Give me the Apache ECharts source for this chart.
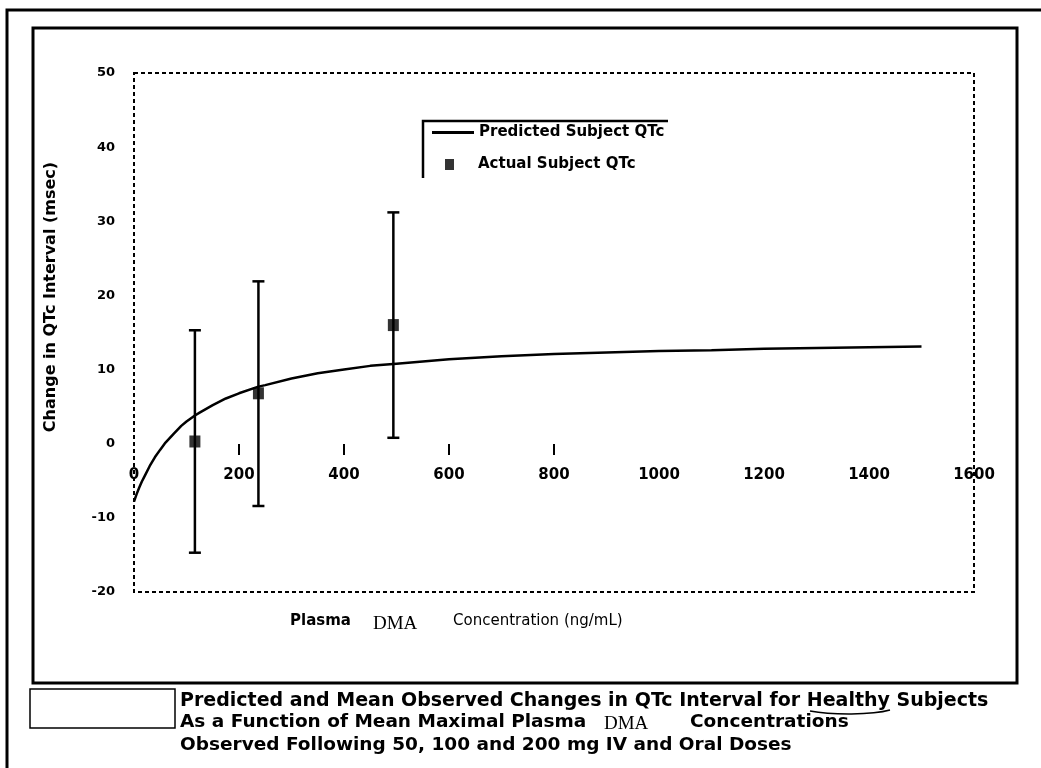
<!DOCTYPE html>
<html><head><meta charset="utf-8">
<script src="https://cdn.jsdelivr.net/npm/echarts@6/dist/echarts.min.js"></script>
<style>html,body{margin:0;padding:0;background:#fff}#c{width:1041px;height:768px}</style>
</head><body><div id="c"></div>
<script>
// ---- data ----
const xTickValues = [200, 400, 600, 800];           // small marks drawn on the zero line
const curveConc = [0, 5, 10, 15, 20, 30, 40, 50, 60, 75, 90, 100, 116, 125, 150, 175, 200, 237, 250, 300, 350, 400, 450, 500, 600, 700, 800, 900, 1000, 1100, 1200, 1300, 1400, 1500];
const curveQTc  = [-7.8, -6.8, -5.9, -5.1, -4.4, -3.0, -1.8, -0.8, 0.15, 1.3, 2.4, 3.0, 3.8, 4.2, 5.2, 6.1, 6.8, 7.7, 7.9, 8.8, 9.5, 10.0, 10.5, 10.8, 11.4, 11.8, 12.1, 12.3, 12.5, 12.6, 12.8, 12.9, 13.0, 13.1];
const obsConc = [116, 237, 494];
const obsMean = [0.3, 6.8, 16.0];
const obsLow  = [-14.7, -8.4, 0.8];
const obsHigh = [15.3, 21.9, 31.2];
const seriesNames = ['Predicted Subject QTc', 'Actual Subject QTc'];
const yTitle = 'Change in QTc Interval (msec)';
const captionLines = [
  'Predicted and Mean Observed Changes in QTc Interval for Healthy Subjects',
  'As a Function of Mean Maximal Plasma',
  'Observed Following 50, 100 and 200 mg IV and Oral Doses'
];

const chart = echarts.init(document.getElementById('c'), null, {renderer: 'canvas'});
const SANS = 'DejaVu Sans';
const cap = {fontFamily: SANS, fontWeight: 'bold', fontSize: 18.5, fill: '#000'};

const option = {
  backgroundColor: '#fff',
  animation: false,
  grid: {left: 134, top: 73, width: 840, height: 519, show: true,
         borderColor: '#000', borderWidth: 2, borderType: [4, 3], backgroundColor: 'transparent'},
  xAxis: {
    type: 'value', min: 0, max: 1600, interval: 200, position: 'bottom', offset: -148,
    axisLine: {show: false, onZero: false},
    axisTick: {show: true, customValues: xTickValues, length: 11, lineStyle: {color: '#000', width: 2}},
    axisLabel: {margin: 24, color: '#000', fontFamily: SANS, fontWeight: 'bold', fontSize: 15,
                formatter: function (v) { return String(v); }},
    splitLine: {show: false}
  },
  yAxis: {
    type: 'value', min: -20, max: 50, interval: 10,
    axisLine: {show: false}, axisTick: {show: false}, splitLine: {show: false},
    axisLabel: {margin: 19, color: '#000', fontFamily: SANS, fontWeight: 'bold', fontSize: 13}
  },
  legend: [
    {data: [seriesNames[0]], left: 432, top: 125, icon: 'rect', itemWidth: 42, itemHeight: 3, padding: 0,
     textStyle: {fontFamily: SANS, fontWeight: 'bold', fontSize: 15, color: '#000'}},
    {data: [seriesNames[1]], left: 445, top: 157, icon: 'rect', itemWidth: 9, itemHeight: 11, padding: 0,
     textStyle: {fontFamily: SANS, fontWeight: 'bold', fontSize: 15, color: '#000', padding: [0, 0, 0, 19]}}
  ],
  series: [
    {name: seriesNames[0], type: 'line', data: curveConc.map((c, i) => [c, curveQTc[i]]),
     symbol: 'none', smooth: false,
     lineStyle: {color: '#000', width: 2.5}, itemStyle: {color: '#000'}, z: 3},
    {name: 'err', type: 'custom', data: obsConc.map((c, i) => [c, obsLow[i], obsHigh[i]]),
     encode: {x: 0, y: [1, 2]}, silent: true, z: 2,
     renderItem: function (params, api) {
       const x = api.value(0);
       const lo = api.coord([x, api.value(1)]);
       const hi = api.coord([x, api.value(2)]);
       const hw = 6, st = {stroke: '#000', lineWidth: 2.5};
       return {type: 'group', children: [
         {type: 'line', shape: {x1: lo[0], y1: lo[1], x2: hi[0], y2: hi[1]}, style: st},
         {type: 'line', shape: {x1: lo[0] - hw, y1: lo[1], x2: lo[0] + hw, y2: lo[1]}, style: st},
         {type: 'line', shape: {x1: hi[0] - hw, y1: hi[1], x2: hi[0] + hw, y2: hi[1]}, style: st}
       ]};
     }},
    {name: seriesNames[1], type: 'scatter', data: obsConc.map((c, i) => [c, obsMean[i]]),
     symbol: 'rect', symbolSize: [11, 12], itemStyle: {color: '#000'}, z: 4}
  ],
  graphic: [
    {type: 'polyline', shape: {points: [[7, 768], [7, 10], [1041, 10]]}, style: {stroke: '#000', lineWidth: 3, fill: null}},
    {type: 'rect', shape: {x: 33, y: 28, width: 984, height: 655}, style: {stroke: '#000', lineWidth: 3, fill: null}},
    {type: 'rect', shape: {x: 30, y: 689, width: 145, height: 39}, style: {stroke: '#000', lineWidth: 1.5, fill: null}},
    {type: 'polyline', shape: {points: [[423, 178], [423, 121], [668, 121]]}, style: {stroke: '#000', lineWidth: 2.5, fill: null}},
    {type: 'text', x: 51, y: 297, rotation: Math.PI / 2,
     style: {text: yTitle, fontFamily: SANS, fontWeight: 'bold', fontSize: 16, fill: '#000', align: 'center', verticalAlign: 'middle'}},
    {type: 'text', x: 290, y: 621, style: {text: 'Plasma', fontFamily: SANS, fontWeight: 'bold', fontSize: 15, fill: '#000', verticalAlign: 'middle'}},
    {type: 'text', x: 373, y: 624, style: {text: 'DMA', fontFamily: 'Liberation Serif', fontSize: 19, fill: '#000', verticalAlign: 'middle'}},
    {type: 'text', x: 453, y: 621, style: {text: 'Concentration (ng/mL)', fontFamily: SANS, fontSize: 15, fill: '#000', verticalAlign: 'middle'}},
    {type: 'text', x: 180, y: 701, style: Object.assign({}, cap, {text: captionLines[0], fontSize: 19, verticalAlign: 'middle'})},
    {type: 'bezierCurve', shape: {x1: 810, y1: 711, cpx1: 832, cpy1: 715, cpx2: 872, cpy2: 715, x2: 890, y2: 710},
     style: {stroke: '#000', lineWidth: 1.5, fill: null}},
    {type: 'text', x: 180, y: 722, style: Object.assign({}, cap, {text: captionLines[1], verticalAlign: 'middle'})},
    {type: 'text', x: 604, y: 724, style: {text: 'DMA', fontFamily: 'Liberation Serif', fontSize: 19, fill: '#000', verticalAlign: 'middle'}},
    {type: 'text', x: 690, y: 722, style: Object.assign({}, cap, {text: 'Concentrations', verticalAlign: 'middle'})},
    {type: 'text', x: 180, y: 745, style: Object.assign({}, cap, {text: captionLines[2], verticalAlign: 'middle'})}
  ]
};
chart.setOption(option);
</script>
</body></html>
